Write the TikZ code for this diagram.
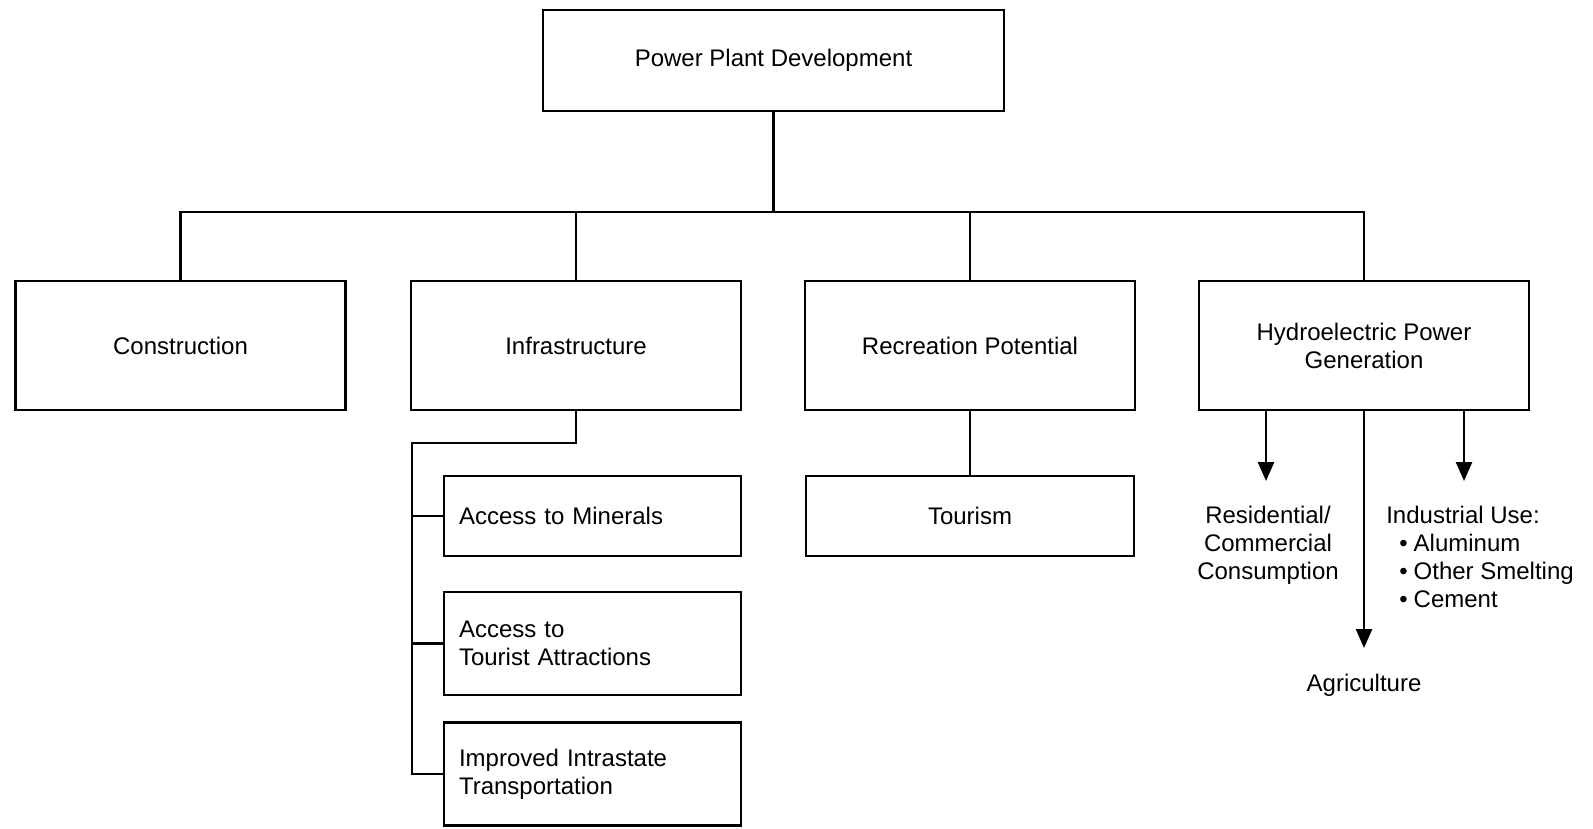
\documentclass[tikz,border=0pt]{standalone}
\usepackage{fontspec}
\setmainfont{Liberation Sans}
\usetikzlibrary{arrows.meta,calc}
\newcommand{\bigdot}{\hspace{13pt}\textbullet\hspace{6pt}}
\tikzset{
  box/.style={rectangle,draw,line width=2.6pt,align=center,
    font=\fontsize{24}{28}\selectfont},
  midbox/.style={box,minimum width=330pt,minimum height=129pt},
  subbox/.style={box,align=left,text width=267pt,inner xsep=15pt},
  lbl/.style={inner sep=0pt,font=\fontsize{24}{28}\selectfont},
  arr/.style={-{Triangle[length=19pt,width=16pt]}}
}
\begin{document}
\begin{tikzpicture}[x=1pt,y=-1pt,line width=2.6pt]
\useasboundingbox (0,0) rectangle (1593,828);
%boxes
\node[box,minimum width=461pt,minimum height=101pt](plant)at(773.5,60.5){Power Plant Development};
\node[midbox](constr)at(180.5,345.5){Construction};
\node[midbox](infra)at(576,345.5){Infrastructure};
\node[midbox](recr)at(970,345.5){Recreation Potential};
\node[midbox](hydro)at(1364,345.5){Hydroelectric Power\\Generation};
\node[subbox,minimum height=80pt](minerals)at(592.5,516){Access to Minerals};
\node[subbox,minimum height=103pt](tourist)at(592.5,643.5){Access to\\Tourist Attractions};
\node[subbox,minimum height=103pt](transp)at(592.5,774){Improved Intrastate\\Transportation};
\node[box,minimum width=328pt,minimum height=80pt](tourism)at(970,516){Tourism};
%tree lines
\coordinate (bus) at (773.5,212);
\draw (plant.south) -- (plant.south |- bus);
\draw (constr.north) |- (bus) -| (hydro.north);
\foreach \n in {infra,recr}
\draw (\n.north) -- (\n.north |- bus);
\coordinate (spine) at (412,443);
\draw (infra.south) |- (spine) -- (spine |- transp.west) -- (transp.west);
\foreach \n in {minerals,tourist}
\draw (spine |- \n.west) -- (\n.west);
\draw (recr.south) -- (tourism.north);
%power uses
\coordinate (restip) at (1266,481);
\coordinate (indtip) at (1464,481);
\coordinate (agritip) at (1364,648);
\foreach \t in {restip,indtip,agritip}
\draw[arr] (\t |- hydro.south) -- (\t);
%labels
\node[lbl,anchor=north,align=center](resid)at(1268,505){Residential/\\Commercial\\Consumption};
\node[lbl,anchor=north west,align=left](indus)at(1385,505){Industrial Use:\\
\bigdot Aluminum\\
\bigdot Other Smelting\\
\bigdot Cement};
\node[lbl,anchor=north](agri)at(1364,673){Agriculture};
\end{tikzpicture}
\end{document}
